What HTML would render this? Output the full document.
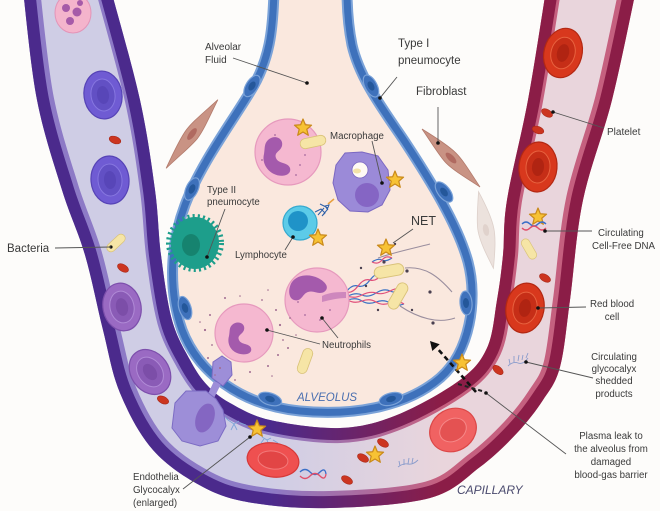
<!DOCTYPE html>
<html><head><meta charset="utf-8"><style>
html,body{margin:0;padding:0;background:#fdfcfa;}
svg{display:block;}
text{font-family:"Liberation Sans",Arial,sans-serif;fill:#3a3a3a;}
</style></head><body>
<svg width="660" height="511" viewBox="0 0 660 511" xmlns="http://www.w3.org/2000/svg">
<defs>
<linearGradient id="gDark" gradientUnits="userSpaceOnUse" x1="270" y1="0" x2="440" y2="0"><stop offset="0" stop-color="#4b2a8c"/><stop offset="1" stop-color="#8b1d47"/></linearGradient>
<linearGradient id="gStripe" gradientUnits="userSpaceOnUse" x1="270" y1="0" x2="440" y2="0"><stop offset="0" stop-color="#8d7ac6"/><stop offset="1" stop-color="#c5607f"/></linearGradient>
<linearGradient id="gLumen" gradientUnits="userSpaceOnUse" x1="270" y1="0" x2="440" y2="0"><stop offset="0" stop-color="#cfcde5"/><stop offset="1" stop-color="#e9d5dc"/></linearGradient>
<clipPath id="capClip"><path d="M23,-10 C25.3,8.3 30.5,66.7 37,100 C43.5,133.3 54,164.2 62,190 C70,215.8 78.2,231.7 85,255 C91.8,278.3 97.2,307 103,330 C108.8,353 111.7,373 120,393 C128.3,413 139.2,434.3 153,450 C166.8,465.7 186.3,478.2 203,487 C219.7,495.8 231.8,499.5 253,503 C274.2,506.5 300.5,508.8 330,508 C359.5,507.2 405,504.8 430,498 C455,491.2 465.5,477.8 480,467 C494.5,456.2 506.5,444.2 517,433 C527.5,421.8 535.8,411 543,400 C550.2,389 555.5,383.7 560,367 C564.5,350.3 566.2,327.8 570,300 C573.8,272.2 576,233.3 583,200 C590,166.7 603.2,135 612,100 C620.8,65 632,8.3 636,-10 L546,-10 C543,8.3 534.5,65 528,100 C521.5,135 511.2,174.2 507,200 C502.8,225.8 504.7,238.3 503,255 C501.3,271.7 499.7,284.5 497,300 C494.3,315.5 493.2,334.7 487,348 C480.8,361.3 475,368.8 460,380 C445,391.2 417,407 397,415 C377,423 361.2,427.2 340,428 C318.8,428.8 288.3,424.2 270,420 C251.7,415.8 240.5,408.8 230,403 C219.5,397.2 213.7,392.2 207,385 C200.3,377.8 195.8,370.8 190,360 C184.2,349.2 176.8,337.5 172,320 C167.2,302.5 163.8,276.7 161,255 C158.2,233.3 158.5,215.8 155,190 C151.5,164.2 147.3,133.3 140,100 C132.7,66.7 115.8,8.3 111,-10 Z"/></clipPath>
<path id="st" d="M0,-9 L2.35,-3.24 L8.56,-2.78 L3.8,1.24 L5.29,7.28 L0,4 L-5.29,7.28 L-3.8,1.24 L-8.56,-2.78 L-2.35,-3.24 Z" fill="#f7c234" stroke="#c9891a" stroke-width="1.2" stroke-linejoin="round"/>
<ellipse id="pl" rx="6" ry="3.5" fill="#cc3520" stroke="#a82818" stroke-width="0.6"/>
<g id="rbcP"><ellipse rx="19" ry="24" fill="#6f5bd3" stroke="#5643b6" stroke-width="1.2"/><ellipse rx="12" ry="16" fill="#6250c4" stroke="#8676e0" stroke-width="1"/><ellipse rx="6" ry="9" fill="#5846b8"/></g>
<g id="rbcV"><ellipse rx="19" ry="24" fill="#9a6ac3" stroke="#7d4fac" stroke-width="1.2"/><ellipse rx="12" ry="16" fill="#8a5bb6" stroke="#b08ad6" stroke-width="1"/><ellipse rx="6" ry="9" fill="#7c4ea8"/></g>
<g id="rbcR"><ellipse rx="19" ry="25" fill="#d8381d" stroke="#b32813" stroke-width="1.2"/><ellipse rx="12" ry="16" fill="#c62e17" stroke="#e8623f" stroke-width="1"/><ellipse rx="6" ry="9" fill="#b02412"/></g>
<g id="bac"><rect x="-13" y="-5" width="26" height="10" rx="5" fill="#f6e5a6" stroke="#d9c278" stroke-width="0.8"/></g>
</defs>
<rect width="660" height="511" fill="#fdfcfa"/>

<!-- capillary -->
<g clip-path="url(#capClip)">
<rect x="0" y="-20" width="660" height="540" fill="url(#gLumen)"/>
<path d="M23,-10 C25.3,8.3 30.5,66.7 37,100 C43.5,133.3 54,164.2 62,190 C70,215.8 78.2,231.7 85,255 C91.8,278.3 97.2,307 103,330 C108.8,353 111.7,373 120,393 C128.3,413 139.2,434.3 153,450 C166.8,465.7 186.3,478.2 203,487 C219.7,495.8 231.8,499.5 253,503 C274.2,506.5 300.5,508.8 330,508 C359.5,507.2 405,504.8 430,498 C455,491.2 465.5,477.8 480,467 C494.5,456.2 506.5,444.2 517,433 C527.5,421.8 535.8,411 543,400 C550.2,389 555.5,383.7 560,367 C564.5,350.3 566.2,327.8 570,300 C573.8,272.2 576,233.3 583,200 C590,166.7 603.2,135 612,100 C620.8,65 632,8.3 636,-10" fill="none" stroke="url(#gStripe)" stroke-width="34"/>
<path d="M23,-10 C25.3,8.3 30.5,66.7 37,100 C43.5,133.3 54,164.2 62,190 C70,215.8 78.2,231.7 85,255 C91.8,278.3 97.2,307 103,330 C108.8,353 111.7,373 120,393 C128.3,413 139.2,434.3 153,450 C166.8,465.7 186.3,478.2 203,487 C219.7,495.8 231.8,499.5 253,503 C274.2,506.5 300.5,508.8 330,508 C359.5,507.2 405,504.8 430,498 C455,491.2 465.5,477.8 480,467 C494.5,456.2 506.5,444.2 517,433 C527.5,421.8 535.8,411 543,400 C550.2,389 555.5,383.7 560,367 C564.5,350.3 566.2,327.8 570,300 C573.8,272.2 576,233.3 583,200 C590,166.7 603.2,135 612,100 C620.8,65 632,8.3 636,-10" fill="none" stroke="url(#gDark)" stroke-width="24"/>
<path d="M111,-10 C115.8,8.3 132.7,66.7 140,100 C147.3,133.3 151.5,164.2 155,190 C158.5,215.8 158.2,233.3 161,255 C163.8,276.7 167.2,302.5 172,320 C176.8,337.5 184.2,349.2 190,360 C195.8,370.8 200.3,377.8 207,385 C213.7,392.2 219.5,397.2 230,403 C240.5,408.8 251.7,415.8 270,420 C288.3,424.2 318.8,428.8 340,428 C361.2,427.2 377,423 397,415 C417,407 445,391.2 460,380 C475,368.8 480.8,361.3 487,348 C493.2,334.7 494.3,315.5 497,300 C499.7,284.5 501.3,271.7 503,255 C504.7,238.3 502.8,225.8 507,200 C511.2,174.2 521.5,135 528,100 C534.5,65 543,8.3 546,-10" fill="none" stroke="url(#gStripe)" stroke-width="30"/>
<path d="M111,-10 C115.8,8.3 132.7,66.7 140,100 C147.3,133.3 151.5,164.2 155,190 C158.5,215.8 158.2,233.3 161,255 C163.8,276.7 167.2,302.5 172,320 C176.8,337.5 184.2,349.2 190,360 C195.8,370.8 200.3,377.8 207,385 C213.7,392.2 219.5,397.2 230,403 C240.5,408.8 251.7,415.8 270,420 C288.3,424.2 318.8,428.8 340,428 C361.2,427.2 377,423 397,415 C417,407 445,391.2 460,380 C475,368.8 480.8,361.3 487,348 C493.2,334.7 494.3,315.5 497,300 C499.7,284.5 501.3,271.7 503,255 C504.7,238.3 502.8,225.8 507,200 C511.2,174.2 521.5,135 528,100 C534.5,65 543,8.3 546,-10" fill="none" stroke="url(#gDark)" stroke-width="24"/>
</g>

<!-- alveolus -->
<path d="M274,-10 C273,30 270,60 250,92 C230,125 200,165 185,205 C170,245 168,290 182,330 C198,372 240,405 300,411 C350,416 405,408 440,378 C470,352 478,300 468,262 C458,225 430,180 405,142 C385,112 360,80 352,45 C348,25 347,5 347,-10 Z" fill="#fae8de" stroke="#7aa2d8" stroke-width="11"/>
<path d="M274,-10 C273,30 270,60 250,92 C230,125 200,165 185,205 C170,245 168,290 182,330 C198,372 240,405 300,411 C350,416 405,408 440,378 C470,352 478,300 468,262 C458,225 430,180 405,142 C385,112 360,80 352,45 C348,25 347,5 347,-10" fill="none" stroke="#3e71bb" stroke-width="7"/>
<g stroke="#7aa2d8" stroke-width="1.2" fill="#3e71bb">
<ellipse cx="252" cy="86" rx="12" ry="6" transform="rotate(-58 252 86)"/>
<ellipse cx="192" cy="189" rx="12" ry="6" transform="rotate(-65 192 189)"/>
<ellipse cx="185" cy="308" rx="12" ry="6" transform="rotate(72 185 308)"/>
<ellipse cx="270" cy="399" rx="12" ry="6" transform="rotate(18 270 399)"/>
<ellipse cx="391" cy="399" rx="12" ry="6" transform="rotate(-15 391 399)"/>
<ellipse cx="466" cy="303" rx="12" ry="6" transform="rotate(85 466 303)"/>
<ellipse cx="444" cy="192" rx="12" ry="6" transform="rotate(52 444 192)"/>
<ellipse cx="371" cy="86" rx="12" ry="6" transform="rotate(62 371 86)"/>
</g>
<g fill="#24579a">
<ellipse cx="252" cy="86" rx="5" ry="3" transform="rotate(-58 252 86)"/>
<ellipse cx="192" cy="189" rx="5" ry="3" transform="rotate(-65 192 189)"/>
<ellipse cx="185" cy="308" rx="5" ry="3" transform="rotate(72 185 308)"/>
<ellipse cx="270" cy="399" rx="5" ry="3" transform="rotate(18 270 399)"/>
<ellipse cx="391" cy="399" rx="5" ry="3" transform="rotate(-15 391 399)"/>
<ellipse cx="466" cy="303" rx="5" ry="3" transform="rotate(85 466 303)"/>
<ellipse cx="444" cy="192" rx="5" ry="3" transform="rotate(52 444 192)"/>
<ellipse cx="371" cy="86" rx="5" ry="3" transform="rotate(62 371 86)"/>
</g>

<!-- fibroblasts -->
<g transform="translate(192,134) rotate(-53)"><path d="M-43,0 C-20,-5 -8,-7 0,-7 C10,-7 22,-4 43,0 C22,4 10,7 0,7 C-8,7 -20,4 -43,0 Z" fill="#c99384" stroke="#b37b6c" stroke-width="0.8"/><ellipse rx="7" ry="3" fill="#b06a60"/></g>
<g transform="translate(451,158) rotate(45)"><path d="M-41,0 C-20,-5 -8,-7 0,-7 C10,-7 22,-4 41,0 C22,4 10,7 0,7 C-8,7 -20,4 -41,0 Z" fill="#c99384" stroke="#b37b6c" stroke-width="0.8"/><ellipse rx="7" ry="3" fill="#b06a60"/></g>
<g transform="translate(486,230) rotate(79)"><path d="M-39,0 C-20,-6 -8,-8 0,-8 C10,-8 22,-5 39,0 C22,5 10,8 0,8 C-8,8 -20,5 -39,0 Z" fill="#ece2dd" stroke="#ddd0ca" stroke-width="0.8"/><ellipse rx="6" ry="3" fill="#e0d2cc"/></g>

<!-- left capillary cells -->
<ellipse cx="73" cy="13" rx="18" ry="20" fill="#f4b4cc" stroke="#e394b8" stroke-width="1"/>
<g fill="#a65aa8"><circle cx="66" cy="8" r="4"/><circle cx="77" cy="12" r="4.5"/><circle cx="70" cy="21" r="4"/><circle cx="80" cy="3" r="3"/></g>
<use href="#rbcP" transform="translate(103,95) rotate(-8)"/>
<use href="#pl" transform="translate(115,140) rotate(20)"/>
<use href="#rbcP" transform="translate(110,180) rotate(-5)"/>
<use href="#bac" transform="translate(116,243) rotate(-43) scale(0.85)"/>
<circle cx="111" cy="247" r="1.6" fill="#111"/>
<use href="#pl" transform="translate(123,268) rotate(30)"/>
<use href="#rbcV" transform="translate(122,307) rotate(-12)"/>
<use href="#rbcV" transform="translate(150,372) rotate(-35)"/>
<use href="#pl" transform="translate(163,400) rotate(25)"/>
<!-- transmigrating cell -->
<path d="M207,396 L214,381 L221,384 L214,398 Z" fill="#9d8ed8"/>
<path d="M213,362 L222,356 L231,362 L232,375 L223,386 L212,378 Z" fill="#9d8ed8" stroke="#7c6cc4" stroke-width="1"/>
<path d="M175,403 L186,391 L206,391 L216,399 L223,410 L226,426 L218,441 L200,446 L182,441 L172,428 Z" fill="#9d8ed8" stroke="#7c6cc4" stroke-width="1"/>
<ellipse cx="205" cy="418" rx="9" ry="15" transform="rotate(20 205 418)" fill="#8466c2"/>
<g stroke="#7ea4d8" stroke-width="0.9" fill="none"><path d="M228,420 l6,4 l5,-3 m-5,3 l3,6 m-3,-6 l-3,6 m9,-7 l6,2 m-18,-5 l-3,-3"/><path d="M262,437 l5,3 l4,-2 m-4,2 l2,5 m4,-5 l5,3 m-14,-4 l-3,4"/></g>
<use href="#st" x="257" y="429"/>
<g transform="translate(273,460) rotate(8)"><ellipse rx="26" ry="17" fill="#ef5050" stroke="#d63838" stroke-width="1.2"/><ellipse rx="15" ry="9" fill="#e24545" stroke="#f37a7a" stroke-width="1"/></g>
<path d="M300,472 q5,-5 10,0 t10,0 t6,2" fill="none" stroke="#3a6fc8" stroke-width="1.3"/>
<path d="M300,476 q5,5 10,0 t10,0 t6,-2" fill="none" stroke="#e0506a" stroke-width="1.3"/>

<!-- right capillary cells -->
<use href="#rbcR" transform="translate(563,53) rotate(15)"/>
<use href="#pl" transform="translate(547,113) rotate(30)"/>
<use href="#pl" transform="translate(538,130) rotate(20)"/>
<use href="#rbcR" transform="translate(538,167) rotate(5)"/>
<use href="#st" x="538" y="217"/>
<path d="M522,224 q4,-4 8,0 t8,0 t8,0" fill="none" stroke="#3a6fc8" stroke-width="1.3"/>
<path d="M522,228 q4,4 8,0 t8,0 t8,0" fill="none" stroke="#e0506a" stroke-width="1.3"/>
<use href="#bac" transform="translate(529,249) rotate(60) scale(0.85)"/>
<use href="#pl" transform="translate(545,278) rotate(30)"/>
<use href="#rbcR" transform="translate(525,308) rotate(10)"/>
<path d="M508,366 q5,-5 10,-3 t10,-5 M510,364 l-1,-5 M514,362 l0,-6 M518,361 l1,-6 M522,360 l1,-5 M526,358 l2,-5" fill="none" stroke="#8a9ccc" stroke-width="0.9"/>
<use href="#pl" transform="translate(498,370) rotate(40)"/>
<g transform="translate(453,430) rotate(-30)"><ellipse rx="24" ry="21" fill="#f06262" stroke="#dc4848" stroke-width="1.2"/><ellipse rx="14" ry="11" fill="#e45252" stroke="#f68888" stroke-width="1"/></g>
<use href="#pl" transform="translate(383,443) rotate(30)"/>
<use href="#pl" transform="translate(363,458) rotate(30)"/>
<use href="#pl" transform="translate(347,480) rotate(30)"/>
<use href="#st" x="375" y="455"/>
<path d="M398,467 q5,-4 10,-3 t10,-4 M400,466 l-1,-5 M404,465 l0,-6 M408,464 l1,-6 M412,463 l1,-5" fill="none" stroke="#8a9ccc" stroke-width="0.9"/>

<!-- alveolus cells -->
<circle cx="288" cy="152" r="33" fill="#f5b8d0" stroke="#e699bd" stroke-width="1.2"/>
<path d="M268,140 c6,-6 16,-2 14,6 c-2,6 -8,6 -6,12 c2,6 12,4 14,10 c2,7 -8,10 -16,6 c-8,-4 -12,-12 -10,-20 c1,-6 0,-10 4,-14 z" fill="#a45aac"/>
<g fill="#b77aa8"><circle cx="300" cy="165" r="1"/><circle cx="275" cy="135" r="1"/><circle cx="296" cy="175" r="1"/><circle cx="262" cy="160" r="1"/><circle cx="305" cy="155" r="1"/></g>
<use href="#bac" transform="translate(313,142) rotate(-12)"/>
<use href="#st" x="303" y="128"/>

<path d="M336,165 L345,153 L362,152 L378,156 L388,170 L390,190 L382,205 L368,212 L350,211 L338,200 L333,183 Z" fill="#9b8ad8" stroke="#7b68c2" stroke-width="1"/>
<circle cx="360" cy="170" r="8" fill="#fffaf4" stroke="#7b68c2" stroke-width="0.8"/>
<ellipse cx="357" cy="171" rx="4" ry="2.5" fill="#f3e2a8"/>
<circle cx="367" cy="195" r="12" fill="#8565c4"/>
<use href="#st" x="395" y="180"/>

<path d="M315,212 l6,-3 l4,4 l-3,3 l5,-6 l2,-5 l-4,1 l3,4 M318,215 l6,-7 M320,204 l8,4" fill="none" stroke="#2c5fa8" stroke-width="1"/>
<path d="M328,204 l6,-5" stroke="#e8a040" stroke-width="1.5"/>
<circle cx="300" cy="223" r="17" fill="#5ccbe8" stroke="#35a9cf" stroke-width="1.2"/>
<circle cx="298" cy="221" r="10" fill="#1f93c8"/>
<use href="#st" x="318" y="238"/>

<circle cx="195" cy="243" r="26" fill="none" stroke="#1d9e8b" stroke-width="6" stroke-dasharray="2 3"/>
<ellipse cx="195" cy="243" rx="24" ry="26" fill="#1d9e8b"/>
<ellipse cx="191" cy="245" rx="9" ry="11" fill="#16836f"/>

<!-- NET -->
<g fill="none" stroke="#9a8e9e" stroke-width="1.1">
<path d="M378,258 C395,252 415,248 430,244"/>
<path d="M405,268 C425,266 438,276 452,292"/>
<path d="M400,306 C418,318 438,324 455,318"/>
</g>
<g fill="none" stroke-width="1.2">
<path d="M346,292 q6,-8 12,-6 t12,-6 t12,-6 t12,-6" stroke="#3a72c4"/>
<path d="M346,292 q6,2 12,-6 t12,-6 t12,-6 t12,-6" stroke="#e0507a"/>
<path d="M348,296 q8,-4 14,-1 t14,-2 t14,-2 t14,-2" stroke="#3a72c4"/>
<path d="M348,296 q6,3 14,-1 t14,-2 t14,-2 t14,-2" stroke="#e0507a"/>
<path d="M348,300 q8,-3 14,1 t14,1 t14,1 t14,1" stroke="#3a72c4"/>
<path d="M348,300 q6,4 14,1 t14,1 t14,1 t14,1" stroke="#e0507a"/>
<path d="M372,262 q6,-4 10,-2 t10,-2" stroke="#3a72c4"/>
<path d="M372,262 q6,3 10,-2 t10,-2" stroke="#e0507a"/>
</g>
<use href="#bac" transform="translate(389,271) rotate(-10) scale(1.15)"/>
<use href="#bac" transform="translate(398,296) rotate(-60) scale(1.1)"/>
<g fill="#4a4050"><circle cx="384" cy="262" r="1.6"/><circle cx="407" cy="271" r="1.6"/><circle cx="430" cy="292" r="1.6"/><circle cx="433" cy="323" r="1.6"/><circle cx="366" cy="286" r="1.2"/><circle cx="378" cy="310" r="1.2"/><circle cx="395" cy="244" r="1.2"/><circle cx="412" cy="310" r="1.2"/><circle cx="361" cy="268" r="1.2"/></g>
<use href="#st" x="386" y="248"/>

<circle cx="317" cy="300" r="32" fill="#f5b8d0" stroke="#e699bd" stroke-width="1.2"/>
<path d="M292,282 c6,-8 18,-8 26,-4 c8,4 12,10 6,14 c-6,3 -10,-2 -16,0 c-6,2 -6,10 -14,8 c-6,-2 -6,-12 -2,-18 z" fill="#a45aac"/>
<path d="M322,296 c8,-4 16,-4 24,-4 l0,6 c-8,0 -16,2 -24,4 z" fill="#c47ab8" opacity="0.8"/>
<g fill="#b77aa8"><circle cx="305" cy="315" r="1"/><circle cx="320" cy="320" r="1"/><circle cx="298" cy="302" r="1"/><circle cx="330" cy="310" r="1"/></g>

<circle cx="244" cy="333" r="29" fill="#f5b8d0" stroke="#e699bd" stroke-width="1.2"/>
<path d="M232,325 c5,-5 14,-2 12,5 c-2,5 -7,5 -5,10 c2,5 10,3 12,8 c2,6 -7,8 -14,5 c-7,-3 -10,-10 -8,-17 c1,-5 0,-8 3,-11 z" fill="#a45aac"/>
<g fill="#a06c90">
<circle cx="210" cy="315" r="1"/><circle cx="205" cy="330" r="1.1"/><circle cx="212" cy="345" r="0.9"/><circle cx="208" cy="358" r="1"/><circle cx="220" cy="368" r="1"/><circle cx="276" cy="310" r="1"/><circle cx="280" cy="325" r="1.1"/><circle cx="283" cy="340" r="0.9"/><circle cx="278" cy="355" r="1"/><circle cx="268" cy="366" r="1"/><circle cx="262" cy="300" r="0.9"/><circle cx="225" cy="298" r="1"/><circle cx="240" cy="296" r="0.8"/><circle cx="290" cy="318" r="0.9"/><circle cx="288" cy="348" r="1"/><circle cx="200" cy="322" r="0.8"/><circle cx="215" cy="375" r="0.8"/><circle cx="250" cy="372" r="1"/><circle cx="296" cy="335" r="0.8"/><circle cx="272" cy="376" r="0.8"/><circle cx="235" cy="380" r="0.9"/><circle cx="268" cy="290" r="0.8"/>
</g>
<use href="#bac" transform="translate(305,361) rotate(-70)"/>

<!-- arrow and wall star -->
<path d="M476,392 L437,348" stroke="#111" stroke-width="2.6" stroke-dasharray="5,3.5" fill="none"/>
<polygon points="430,341 439.7,344.3 432.3,351" fill="#111"/>
<path d="M458,384 L482,391" stroke="#222" stroke-width="2" stroke-dasharray="4,3"/>
<use href="#st" x="462" y="363"/>

<!-- label lines -->
<g stroke="#555" stroke-width="0.9" fill="none">
<line x1="233" y1="58" x2="307" y2="83"/>
<line x1="397" y1="77" x2="380" y2="98"/>
<line x1="438" y1="107" x2="438" y2="143"/>
<line x1="372" y1="141" x2="382" y2="183"/>
<line x1="225" y1="209" x2="207" y2="257"/>
<line x1="285" y1="250" x2="293" y2="237"/>
<line x1="393" y1="243" x2="413" y2="229"/>
<line x1="267" y1="330" x2="320" y2="344"/>
<line x1="322" y1="318" x2="338" y2="338"/>
<line x1="55" y1="248" x2="111" y2="247"/>
<line x1="553" y1="112" x2="604" y2="128"/>
<line x1="545" y1="231" x2="592" y2="231"/>
<line x1="538" y1="308" x2="586" y2="307"/>
<line x1="526" y1="362" x2="593" y2="378"/>
<line x1="486" y1="393" x2="566" y2="454"/>
<line x1="183" y1="489" x2="250" y2="437"/>
</g>
<g fill="#111">
<circle cx="307" cy="83" r="1.8"/><circle cx="380" cy="98" r="1.8"/><circle cx="438" cy="143" r="1.8"/><circle cx="382" cy="183" r="1.8"/><circle cx="207" cy="257" r="1.8"/><circle cx="293" cy="237" r="1.8"/><circle cx="267" cy="330" r="1.8"/><circle cx="322" cy="318" r="1.8"/><circle cx="553" cy="112" r="1.8"/><circle cx="545" cy="231" r="1.8"/><circle cx="538" cy="308" r="1.8"/><circle cx="526" cy="362" r="1.8"/><circle cx="486" cy="393" r="1.8"/><circle cx="250" cy="437" r="1.8"/>
</g>

<!-- labels -->
<g font-size="10">
<text x="205" y="50">Alveolar</text>
<text x="205" y="63">Fluid</text>
</g>
<g font-size="11.5">
<text x="398" y="47">Type I</text>
<text x="398" y="64">pneumocyte</text>
<text x="416" y="95">Fibroblast</text>
<text x="7" y="252">Bacteria</text>
</g>
<text x="411" y="225" font-size="12.5">NET</text>
<g font-size="9.7">
<text x="330" y="139">Macrophage</text>
<text x="207" y="193">Type II</text>
<text x="207" y="205">pneumocyte</text>
<text x="235" y="258">Lymphocyte</text>
<text x="322" y="348">Neutrophils</text>
<text x="607" y="135" font-size="10">Platelet</text>
<text x="598" y="236">Circulating</text>
<text x="592" y="249">Cell-Free DNA</text>
<text x="590" y="307">Red blood</text>
<text x="612" y="320" text-anchor="middle">cell</text>
<g text-anchor="middle">
<text x="614" y="360">Circulating</text>
<text x="614" y="372">glycocalyx</text>
<text x="614" y="384">shedded</text>
<text x="614" y="397">products</text>
<text x="611" y="439">Plasma leak to</text>
<text x="611" y="452">the alveolus from</text>
<text x="611" y="465">damaged</text>
<text x="611" y="478">blood-gas barrier</text>
</g>
<text x="133" y="480">Endothelia</text>
<text x="133" y="493">Glycocalyx</text>
<text x="133" y="506">(enlarged)</text>
</g>
<text x="297" y="401" font-size="11.5" font-style="italic" style="fill:#4a6fb0">ALVEOLUS</text>
<text x="457" y="494" font-size="12" font-style="italic" style="fill:#4a4a6e">CAPILLARY</text>
</svg>
</body></html>
